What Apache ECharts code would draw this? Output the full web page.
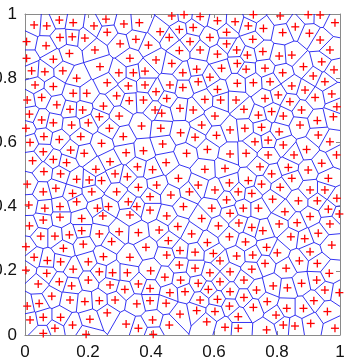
<!DOCTYPE html>
<html>
<head>
<meta charset="utf-8">
<script src="https://cdn.jsdelivr.net/npm/echarts@6/dist/echarts.min.js"></script>
<style>html,body{margin:0;padding:0;background:#fff;}#chart{width:346px;height:363px;}</style>
</head>
<body>
<div id="chart"></div>
<script>
// Generator points
const pointX = [
0.029,0.069,0.109,0.153,0.219,0.257,0.314,0.005,0.067,0.111,0.150,0.261,0.222,0.302,0.141,0.090,0.005,0.021,0.063,0.120,
0.164,0.238,0.298,0.032,0.090,0.153,0.196,0.261,0.291,0.328,0.007,0.053,0.101,0.143,0.183,0.249,0.331,0.190,0.333,
0.363,0.466,0.505,0.556,0.611,0.667,0.429,0.490,0.534,0.352,0.458,0.392,0.524,0.587,0.640,0.640,0.490,0.556,0.611,0.672,
0.416,0.466,0.344,0.381,0.501,0.545,0.587,0.624,0.674,0.381,0.416,0.460,0.501,0.550,0.611,0.674,0.376,0.450,0.571,0.621,
0.670,0.534,0.492,0.413,
0.725,0.810,0.899,0.937,0.709,0.757,0.818,0.984,0.723,0.903,0.937,0.968,0.706,0.755,0.807,0.847,0.884,0.942,0.702,0.762,
0.818,0.915,0.981,0.725,0.778,0.847,0.889,0.952,0.762,0.804,0.841,0.921,0.974,0.695,0.783,0.878,0.990,0.858,
0.014,0.236,0.299,0.053,0.090,0.003,0.148,0.201,0.268,0.016,0.060,0.109,0.177,0.243,0.312,0.058,0.145,0.188,0.321,0.024,
0.090,0.132,0.225,0.270,0.060,0.113,0.164,0.204,0.243,0.286,0.325,0.007,0.058,0.098,0.151,0.212,0.291,0.328,0.063,0.111,
0.164,0.230,0.265,0.058,0.111,0.180,0.247,0.333,0.012,
0.434,0.603,0.370,0.431,0.494,0.561,0.651,0.376,0.437,0.540,0.579,0.513,0.651,0.448,0.357,0.571,0.635,0.360,0.418,0.487,
0.550,0.649,0.603,0.522,0.463,0.397,0.677,0.640,0.355,0.397,0.450,0.503,0.561,0.593,0.651,0.608,0.405,
0.741,0.820,0.979,0.698,0.751,0.807,0.928,0.931,0.873,0.730,0.772,0.820,0.894,0.968,0.989,0.702,0.772,0.854,0.942,0.746,
0.836,0.899,0.709,0.783,0.751,0.847,0.963,0.720,0.810,0.905,0.952,0.786,0.868,0.928,0.990,0.693,0.741,0.825,0.905,0.963,
0.998,
0.014,0.180,0.236,0.299,0.050,0.095,0.141,0.003,0.122,0.185,0.275,0.333,0.029,0.071,0.113,0.201,0.249,0.003,0.069,0.153,
0.236,0.278,0.325,0.042,0.109,0.148,0.201,0.270,0.317,0.007,0.085,0.143,0.190,0.236,0.286,0.016,0.058,0.113,0.151,0.206,
0.261,0.321,0.058,0.095,0.194,0.045,
0.614,0.679,0.360,0.426,0.529,0.649,0.579,0.384,0.455,0.492,0.598,0.672,0.450,0.619,0.399,0.490,0.540,0.587,0.651,0.360,
0.444,0.494,0.550,0.619,0.397,0.460,0.508,0.582,0.651,0.355,0.397,0.448,0.556,0.611,0.649,0.492,0.545,0.603,0.677,0.360,
0.405,0.458,0.577,0.635,0.677,0.407,0.485,0.540,
0.720,0.755,0.807,0.864,0.968,0.844,0.931,0.723,0.767,0.801,0.905,0.974,0.762,0.829,0.871,0.928,0.966,0.720,0.695,0.735,
0.788,0.878,0.926,0.952,0.998,0.695,0.769,0.831,0.884,0.917,0.960,0.725,0.797,0.767,0.820,0.857,0.907,0.984,0.700,0.888,
0.833
];
const pointY = [
0.966,0.963,0.981,0.973,0.963,0.984,0.969,0.914,0.901,0.927,0.929,0.943,0.888,0.907,0.877,0.859,0.862,0.823,0.820,0.823,
0.800,0.836,0.817,0.779,0.774,0.753,0.753,0.786,0.745,0.776,0.732,0.740,0.717,0.703,0.701,0.713,0.730,0.925,0.862,
0.973,0.994,0.998,0.992,0.979,0.976,0.945,0.952,0.958,0.921,0.927,0.903,0.914,0.927,0.943,0.907,0.886,0.888,0.875,0.888,
0.857,0.846,0.817,0.822,0.817,0.828,0.803,0.831,0.846,0.779,0.758,0.779,0.771,0.789,0.765,0.784,0.732,0.737,0.734,0.732,
0.732,0.701,0.706,0.701,
0.998,0.994,0.998,0.997,0.963,0.955,0.942,0.973,0.921,0.940,0.919,0.888,0.872,0.883,0.869,0.872,0.836,0.851,0.828,0.831,
0.817,0.807,0.826,0.786,0.789,0.776,0.763,0.789,0.737,0.748,0.727,0.740,0.751,0.703,0.696,0.701,0.711,0.960,
0.688,0.680,0.682,0.670,0.661,0.644,0.654,0.661,0.644,0.600,0.618,0.609,0.618,0.597,0.618,0.571,0.576,0.566,0.568,0.543,
0.547,0.537,0.516,0.540,0.509,0.502,0.485,0.483,0.481,0.502,0.493,0.470,0.446,0.457,0.441,0.446,0.446,0.415,0.395,0.400,
0.415,0.395,0.400,0.358,0.367,0.363,0.371,0.374,0.405,
0.691,0.682,0.651,0.644,0.630,0.654,0.639,0.574,0.595,0.616,0.578,0.566,0.564,0.537,0.524,0.516,0.519,0.460,0.467,0.488,
0.467,0.474,0.452,0.446,0.436,0.431,0.446,0.421,0.400,0.389,0.371,0.400,0.363,0.395,0.379,0.622,0.515,
0.685,0.682,0.680,0.644,0.647,0.633,0.668,0.623,0.654,0.602,0.607,0.592,0.578,0.602,0.561,0.566,0.561,0.561,0.535,0.524,
0.522,0.514,0.481,0.502,0.470,0.488,0.488,0.441,0.460,0.452,0.452,0.423,0.418,0.418,0.426,0.395,0.395,0.384,0.369,0.392,
0.377,
0.340,0.325,0.315,0.322,0.308,0.308,0.312,0.275,0.270,0.283,0.291,0.242,0.242,0.232,0.228,0.228,0.244,0.202,0.192,0.205,
0.197,0.194,0.194,0.159,0.166,0.153,0.171,0.156,0.142,0.090,0.121,0.109,0.104,0.107,0.109,0.047,0.055,0.055,0.031,0.049,
0.069,0.034,0.005,0.021,0.002,0.098,
0.340,0.349,0.319,0.327,0.315,0.306,0.288,0.273,0.294,0.263,0.254,0.246,0.249,0.231,0.200,0.218,0.208,0.194,0.197,0.159,
0.180,0.171,0.161,0.166,0.145,0.132,0.135,0.142,0.135,0.097,0.107,0.099,0.109,0.111,0.090,0.065,0.076,0.073,0.057,0.021,
0.047,0.031,0.041,0.024,0.021,0.002,0.338,0.258,
0.335,0.325,0.346,0.350,0.346,0.306,0.317,0.249,0.273,0.256,0.259,0.280,0.223,0.208,0.231,0.223,0.192,0.205,0.171,0.140,
0.153,0.161,0.171,0.140,0.132,0.117,0.104,0.083,0.083,0.107,0.073,0.086,0.062,0.016,0.031,0.028,0.036,0.021,0.290,0.300,
0.147
];
const xTickLabels = ['0','0.2','0.4','0.6','0.8','1'];
const yTickLabels = ['0','0.2','0.4','0.6','0.8','1'];

// Voronoi diagram by half-plane clipping (edges computed from the points)
function voronoiEdges(px, py) {
  const n = Math.min(px.length, py.length), B = 2;
  const edges = [];
  for (let i = 0; i < n; i++) {
    let poly = [{x:-B,y:-B,e:-1},{x:1+B,y:-B,e:-1},{x:1+B,y:1+B,e:-1},{x:-B,y:1+B,e:-1}];
    for (let j = 0; j < n; j++) {
      if (j === i) continue;
      const ax = 2 * (px[j] - px[i]), ay = 2 * (py[j] - py[i]);
      const c = px[j]*px[j] + py[j]*py[j] - px[i]*px[i] - py[i]*py[i];
      const out = [];
      for (let k = 0; k < poly.length; k++) {
        const P = poly[k], Q = poly[(k + 1) % poly.length];
        const fp = ax * P.x + ay * P.y - c, fq = ax * Q.x + ay * Q.y - c;
        const pin = fp <= 0, qin = fq <= 0;
        if (pin) out.push(P);
        if (pin !== qin) {
          const t = fp / (fp - fq);
          out.push({x: P.x + t * (Q.x - P.x), y: P.y + t * (Q.y - P.y), e: pin ? j : P.e});
        }
      }
      poly = out;
      if (!poly.length) break;
    }
    for (let k = 0; k < poly.length; k++) {
      const P = poly[k], Q = poly[(k + 1) % poly.length];
      if (P.e > i) edges.push([P.x, P.y, Q.x, Q.y]);
    }
  }
  return edges;
}

const n = Math.min(pointX.length, pointY.length);
const points = [];
for (let i = 0; i < n; i++) points.push([pointX[i], pointY[i]]);
const edges = voronoiEdges(pointX, pointY);

const axisColor = '#8a8a8a';
const labelFont = {color: '#111111', fontSize: 17, fontFamily: 'Liberation Sans, Arial, sans-serif'};
function axisBase(pos, showLabel, labels, isX) {
  return {
    type: 'value', min: 0, max: 1, interval: 0.2, position: pos,
    axisLine: {show: true, onZero: false, lineStyle: {color: axisColor, width: 1}},
    axisTick: {show: true, inside: true, length: 4, lineStyle: {color: axisColor}},
    splitLine: {show: false},
    axisLabel: Object.assign({show: showLabel, margin: isX ? 9 : 8,
      formatter: v => labels[Math.round(v / 0.2)]}, labelFont)
  };
}

const chart = echarts.init(document.getElementById('chart'), null, {renderer: 'canvas'});
chart.setOption({
  backgroundColor: '#ffffff',
  animation: false,
  grid: {left: 25, right: 6, top: 14, bottom: 28, containLabel: false, outerBoundsMode: 'none'},
  xAxis: [axisBase('bottom', true, xTickLabels, true), axisBase('top', false, xTickLabels, true)],
  yAxis: [axisBase('left', true, yTickLabels, false), axisBase('right', false, yTickLabels, false)],
  series: [
    {
      type: 'custom', coordinateSystem: 'cartesian2d', xAxisIndex: 0, yAxisIndex: 0,
      clip: true, silent: true, z: 2,
      data: edges, encode: {x: [0, 2], y: [1, 3]},
      renderItem: function (params, api) {
        const a = api.coord([api.value(0), api.value(1)]);
        const b = api.coord([api.value(2), api.value(3)]);
        return {type: 'line', shape: {x1: a[0], y1: a[1], x2: b[0], y2: b[1]},
          style: {stroke: '#1010f0', lineWidth: 0.85}};
      }
    },
    {
      type: 'custom', coordinateSystem: 'cartesian2d', xAxisIndex: 0, yAxisIndex: 0,
      clip: false, silent: true, z: 3,
      data: points, encode: {x: 0, y: 1},
      renderItem: function (params, api) {
        const p = api.coord([api.value(0), api.value(1)]);
        const h = 4;
        const st = {stroke: '#ff0000', lineWidth: 1.3};
        return {type: 'group', children: [
          {type: 'line', shape: {x1: p[0] - h, y1: p[1], x2: p[0] + h, y2: p[1]}, style: st},
          {type: 'line', shape: {x1: p[0], y1: p[1] - h, x2: p[0], y2: p[1] + h}, style: st}
        ]};
      }
    }
  ]
});
</script>
</body>
</html>
